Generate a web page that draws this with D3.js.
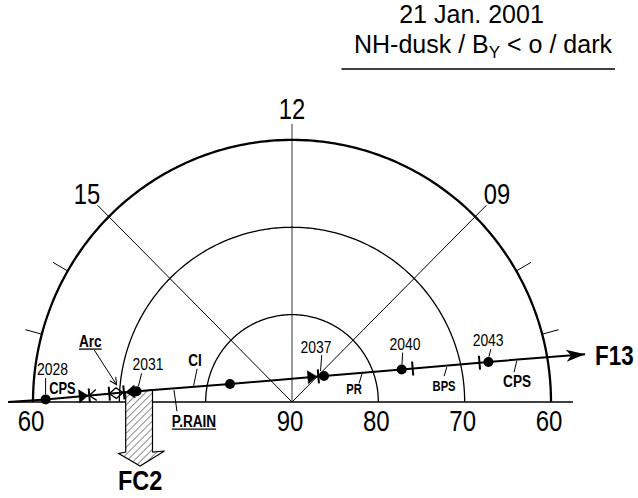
<!DOCTYPE html>
<html><head><meta charset="utf-8">
<script src="https://cdn.jsdelivr.net/npm/d3@7"></script>
<style>html,body{margin:0;padding:0;background:#fff;} svg{display:block;}</style>
</head><body>
<svg id="chart" width="638" height="498"></svg>
<script>
// ---- pass description ----
const passDate = "21 Jan. 2001";
const passSubtitle = ["NH-dusk / B", "Y", " < o / dark"];
const satelliteName = "F13";

// ---- dial: magnetic latitude rings, MLT spokes and ticks ----
const latRings = [80, 70, 60];
const latLabelValues = [60, 90, 80, 70, 60];
const latLabelMLT = [18, 12, 6, 6, 6];
const hourSpokes = [12, 15, 9];
const hourSpokeLabels = ["12", "15", "09"];
const hourTicks = [7, 8, 16, 17];

// ---- satellite pass (UT minutes after 20:00, MLAT, MLT) ----
const trackMin = [28, 31, 34, 37, 40, 43];
const trackLabel = ["2028", "2031", "", "2037", "2040", "2043"];
const trackMLat = [61.46, 71.96, 82.53, 85.24, 76.76, 66.79];
const trackMLT = [17.96, 17.74, 16.93, 8.59, 7.09, 6.76];
const trackStart = [57.13, 18.0];
const trackEnd = [55.61, 6.61];

// ---- precipitation boundaries along the pass (UT minutes after 20:00) ----
const boundaryMin = [29.40, 29.44, 29.44, 30.10, 30.10, 30.55, 30.58, 30.64, 36.77, 36.82, 40.38, 42.69];
const boundaryMark = ["triR", "bar", "chevL", "bar", "chevL", "chevR", "bar", "triL", "triR", "bar", "bar", "bar"];

// ---- precipitation regions along the pass ----
const regionName = ["CPS", "Arc", "CI", "P.RAIN", "PR", "BPS", "CPS"];
const regionMin = [28.55, 30.33, 32.83, 32.20, 38.47, 41.56, 43.98];

// ---- field-aligned current region FC2 (UT minutes after 20:00) ----
const fc2Name = "FC2";
const fc2Span = [30.64, 31.51];

// ================= drawing =================
const svg = d3.select("#chart");
const font = "'Liberation Sans', Arial, Helvetica, sans-serif";
const cx = 292, cy = 402, ky = 1.012;

const rScale = d3.scaleLinear().domain([90, 60]).range([0, 259]);
const aScale = d3.scaleLinear().domain([6, 18]).range([Math.PI / 2, -Math.PI / 2]);
const proj = (lat, mlt) => {
  const r = rScale(lat), a = aScale(mlt);
  return [cx + r * Math.sin(a), cy - ky * r * Math.cos(a)];
};
const projR = (r, mlt) => {
  const a = aScale(mlt);
  return [cx + r * Math.sin(a), cy - ky * r * Math.cos(a)];
};

function label(g, text, x, y, size, o = {}) {
  const sx = o.sx === undefined ? 0.82 : o.sx;
  const t = g.append("text")
    .attr("transform", `translate(${x},${y}) scale(${sx},1)`)
    .attr("text-anchor", o.anchor || "middle")
    .attr("font-family", font)
    .attr("font-size", size)
    .attr("font-weight", o.bold ? "bold" : "normal")
    .attr("fill", "#000")
    .text(text);
  if (o.underline) {
    const w = t.node().getComputedTextLength() * sx;
    g.append("line").attr("x1", x - w / 2).attr("x2", x + w / 2)
      .attr("y1", y + 2.5).attr("y2", y + 2.5)
      .attr("stroke", "#000").attr("stroke-width", 1.3);
  }
  return t;
}

const defs = svg.append("defs");
const pat = defs.append("pattern").attr("id", "hatch")
  .attr("patternUnits", "userSpaceOnUse").attr("width", 5).attr("height", 5)
  .attr("patternTransform", "rotate(45)");
pat.append("rect").attr("width", 5).attr("height", 5).attr("fill", "#fff");
pat.append("line").attr("x1", 0).attr("y1", 0).attr("x2", 0).attr("y2", 5)
  .attr("stroke", "#000").attr("stroke-width", 0.9);

// title
label(svg, passDate, 471.5, 23, 25, { sx: 1 });
const sub = svg.append("text").attr("x", 483).attr("y", 53)
  .attr("text-anchor", "middle").attr("font-family", font).attr("font-size", 25);
sub.append("tspan").text(passSubtitle[0]);
sub.append("tspan").attr("font-size", 17).attr("dy", 5).text(passSubtitle[1]);
sub.append("tspan").attr("dy", -5).text(passSubtitle[2]);
svg.append("line").attr("x1", 341.5).attr("x2", 615).attr("y1", 69).attr("y2", 69)
  .attr("stroke", "#000").attr("stroke-width", 1.5);

const dial = svg.append("g");
const arcLine = d3.line();

// spokes
hourSpokes.forEach((h, i) => {
  const end = projR(275, h);
  dial.append("line").attr("x1", cx).attr("y1", cy).attr("x2", end[0]).attr("y2", end[1])
    .attr("stroke", h === 12 ? "#808080" : "#000")
    .attr("stroke-width", h === 12 ? 1.6 : 1);
  const lp = projR(290, h);
  label(dial, hourSpokeLabels[i], lp[0], lp[1] + 10, 29);
});

// latitude rings
latRings.forEach(lat => {
  const pts = d3.range(0, 241).map(i => proj(lat, 18 - i * 12 / 240));
  dial.append("path").attr("d", arcLine(pts)).attr("fill", "none")
    .attr("stroke", "#000").attr("stroke-width", lat === 60 ? 2.3 : 1.3);
});

// hour ticks outside the 60° ring
hourTicks.forEach(h => {
  const a = projR(rScale(60), h), b = projR(rScale(60) + 17, h);
  dial.append("line").attr("x1", a[0]).attr("y1", a[1]).attr("x2", b[0]).attr("y2", b[1])
    .attr("stroke", "#000").attr("stroke-width", 1);
});

// baseline (18 MLT – 06 MLT)
const bl = projR(284, 18), br = projR(281, 6);
dial.append("line").attr("x1", bl[0]).attr("y1", cy).attr("x2", br[0]).attr("y2", cy)
  .attr("stroke", "#000").attr("stroke-width", 1.3);

// latitude labels
latLabelValues.forEach((lat, i) => {
  const p = proj(lat, latLabelMLT[i]);
  label(dial, String(lat), p[0] - 2, 431, 30, { sx: 0.8 });
});

// ---- satellite track ----
const dots = trackMin.map((t, i) => proj(trackMLat[i], trackMLT[i]));
const xOfT = d3.scaleLinear().domain(trackMin).range(dots.map(d => d[0]));
const yOfT = d3.scaleLinear().domain(trackMin).range(dots.map(d => d[1]));
const pos = t => [xOfT(t), yOfT(t)];
const pStart = proj(...trackStart), pEnd = proj(...trackEnd);
const phi = Math.atan2(pEnd[1] - pStart[1], pEnd[0] - pStart[0]) * 180 / Math.PI;

const trk = svg.append("g");

// FC2 block arrow (hatched)
const fL = pos(fc2Span[0]), fR = pos(fc2Span[1]);
const shaftBottom = 452;
const mid = (fL[0] + fR[0]) / 2 + 1;
const fc2Path = d3.line()([
  fL, [fL[0], shaftBottom], [fL[0] - 7, shaftBottom + 1.5], [mid, 466],
  [fR[0] + 12, shaftBottom - 1], [fR[0], shaftBottom], fR
]);
trk.append("path").attr("d", fc2Path + "Z").attr("fill", "url(#hatch)")
  .attr("stroke", "#000").attr("stroke-width", 1.2).attr("stroke-linejoin", "miter");
label(trk, fc2Name, mid, 490, 28, { bold: true, sx: 0.84 });

// track line
trk.append("path").attr("d", d3.line()([pStart, ...dots, pEnd]))
  .attr("fill", "none").attr("stroke", "#000").attr("stroke-width", 2);
// arrowhead
trk.append("path")
  .attr("transform", `translate(${pEnd[0]},${pEnd[1]}) rotate(${phi})`)
  .attr("d", "M0,0 L-19,-6 L-14,0 L-19,6 Z").attr("fill", "#000");
label(trk, satelliteName, 595, 365, 28, { bold: true, anchor: "start", sx: 0.8 });

// boundary marks
const markPath = {
  triR: "M-9,-6.5 L0,0 L-9,6.5 Z",
  triL: "M9,-6.5 L0,0 L9,6.5 Z",
  bar: "M0,-7 L0,7",
  chevL: "M7,-5.5 L0,0 L7,5.5",
  chevR: "M-7,-5.5 L0,0 L-7,5.5"
};
boundaryMin.forEach((t, i) => {
  const p = pos(t), k = boundaryMark[i];
  const filled = k === "triR" || k === "triL";
  trk.append("path")
    .attr("transform", `translate(${p[0]},${p[1]}) rotate(${phi})`)
    .attr("d", markPath[k])
    .attr("fill", filled ? "#000" : "none")
    .attr("stroke", "#000")
    .attr("stroke-width", k === "bar" ? 2 : (filled ? 0.5 : 1.3));
});

// time dots and labels
const timeLayout = {
  "2028": { lx: 6.8, ly: -24.3, a: [0, -21.3], b: [0, -4.8] },
  "2031": { lx: 11.3, ly: -21.5, a: [5, -18], b: [1.8, -5] },
  "2037": { lx: -8, ly: -23.3, a: [-2.3, -20.8], b: [-3.5, -4.8] },
  "2040": { lx: 3.3, ly: -19.9, a: [1, -16.9], b: [0.3, -4.9] },
  "2043": { lx: -0.3, ly: -15.5, a: [2.4, -12.7], b: [0.5, -5.2] }
};
dots.forEach((d, i) => {
  trk.append("circle").attr("cx", d[0]).attr("cy", d[1]).attr("r", 5).attr("fill", "#000");
  const L = timeLayout[trackLabel[i]];
  if (!L) return;
  trk.append("line").attr("x1", d[0] + L.a[0]).attr("y1", d[1] + L.a[1])
    .attr("x2", d[0] + L.b[0]).attr("y2", d[1] + L.b[1])
    .attr("stroke", "#000").attr("stroke-width", 1);
  label(trk, trackLabel[i], d[0] + L.lx, d[1] + L.ly, 16, { sx: 0.87 });
});

// region labels
const regionLayout = [
  { lx: 0, ly: -4, size: 16 },
  { lx: -26, ly: -46.5, size: 17, underline: true, arrow: [[-22, -43], [0.3, -8.4]] },
  { lx: 1.5, ly: -21, size: 17, lead: [[0, -1], [3.5, -18]] },
  { lx: 20, ly: 38.2, size: 17, underline: true, lead: [[0, 1.7], [3, 23]] },
  { lx: -8, ly: 21.7, size: 14, lead: [[0, 0.7], [-3, 10.7]] },
  { lx: -2.7, ly: 25.3, size: 14, lead: [[0, 1.6], [-2.7, 10.6]] },
  { lx: 0.3, ly: 27.4, size: 17, lead: [[0, 1.4], [-2.7, 12.7]] }
];
regionName.forEach((name, i) => {
  const p = pos(regionMin[i]), L = regionLayout[i];
  if (L.lead) {
    trk.append("line").attr("x1", p[0] + L.lead[0][0]).attr("y1", p[1] + L.lead[0][1])
      .attr("x2", p[0] + L.lead[1][0]).attr("y2", p[1] + L.lead[1][1])
      .attr("stroke", "#000").attr("stroke-width", 1);
  }
  if (L.arrow) {
    const a = [p[0] + L.arrow[0][0], p[1] + L.arrow[0][1]];
    const b = [p[0] + L.arrow[1][0], p[1] + L.arrow[1][1]];
    const ang = Math.atan2(b[1] - a[1], b[0] - a[0]) * 180 / Math.PI;
    trk.append("line").attr("x1", a[0]).attr("y1", a[1]).attr("x2", b[0]).attr("y2", b[1])
      .attr("stroke", "#000").attr("stroke-width", 1);
    trk.append("path").attr("transform", `translate(${b[0]},${b[1]}) rotate(${ang})`)
      .attr("d", "M-7,-3.5 L0,0 L-7,3.5").attr("fill", "none")
      .attr("stroke", "#000").attr("stroke-width", 1);
  }
  label(trk, name, p[0] + L.lx, p[1] + L.ly, L.size, { bold: true, sx: 0.8, underline: L.underline });
});
</script>
</body></html>
